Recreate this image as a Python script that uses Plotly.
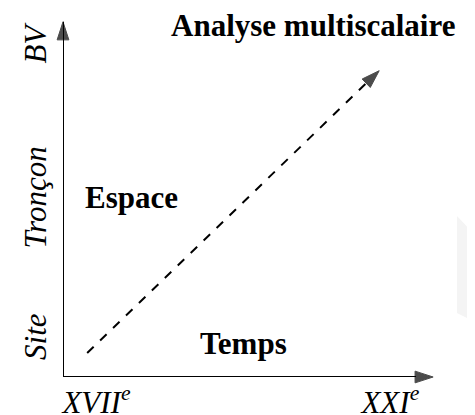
import plotly.graph_objects as go

# Axes : temps (x) et espace (y)
temps_labels = ["XVII<sup>e</sup>", "XXI<sup>e</sup>"]
temps_ticks = [0.09, 0.88]
espace_labels = ["Site", "Tronçon", "BV"]
espace_ticks = [0.1, 0.49, 0.918]

# Tendance multiscalaire (flèche pointillée)
trend_x = [0.065, 0.85]
trend_y = [0.067, 0.858]

# Libellés internes
label_text = ["<b>Espace</b>", "<b>Temps</b>", "<b>Analyse multiscalaire</b>"]
label_x = [0.183, 0.484, 0.672]
label_y = [0.502, 0.095, 0.985]

SERIF = "Liberation Serif, Times New Roman, serif"

fig = go.Figure()

# ligne pointillée avec pointe de flèche
fig.add_trace(go.Scatter(
    x=trend_x, y=trend_y, mode="lines+markers",
    line=dict(color="black", width=2, dash="dash"),
    marker=dict(symbol=["circle", "arrow"], size=[0, 19], angleref="previous",
                color="black", line=dict(width=1, color="black")),
    hoverinfo="skip", showlegend=False, cliponaxis=False,
))

# axes fléchés
for ax_x, ax_y in [([0, 0.995], [0, 0]), ([0, 0], [0, 0.995])]:
    fig.add_trace(go.Scatter(
        x=ax_x, y=ax_y, mode="lines+markers",
        line=dict(color="black", width=2),
        marker=dict(symbol=["circle", "arrow"], size=[0, 19], angleref="previous",
                    color="black", line=dict(width=1, color="black")),
        hoverinfo="skip", showlegend=False, cliponaxis=False,
    ))

for t, x, y in zip(label_text, label_x, label_y):
    fig.add_annotation(x=x, y=y, xref="x", yref="y", text=t, showarrow=False,
                       font=dict(family=SERIF, size=31, color="black"))

# forme grise discrète à droite
fig.add_shape(type="path", xref="paper", yref="paper",
              path="M 1.059 0.451 L 1.108 0.398 L 1.108 0.154 L 1.059 0.179 Z",
              fillcolor="#f4f4f4", line=dict(width=0), layer="below")

# la page ajoute 8 px de marge : on compense
fig.update_layout(
    width=467, height=407,
    margin=dict(l=55, r=40, t=12, b=38),
    paper_bgcolor="white", plot_bgcolor="white",
    showlegend=False,
    xaxis=dict(
        range=[0, 1], showgrid=False, zeroline=False, showline=False,
        tickvals=temps_ticks, ticktext=temps_labels,
        ticks="", ticklabelstandoff=4,
        tickfont=dict(family=SERIF, size=31, color="black", style="italic"),
        fixedrange=True, automargin=False,
    ),
    yaxis=dict(
        range=[0, 1], showgrid=False, zeroline=False, showline=False,
        tickvals=espace_ticks, ticktext=espace_labels, tickangle=-90,
        ticks="", ticklabelstandoff=10,
        tickfont=dict(family=SERIF, size=31, color="black", style="italic"),
        fixedrange=True, automargin=False,
    ),
)

fig.write_html("out.html")
